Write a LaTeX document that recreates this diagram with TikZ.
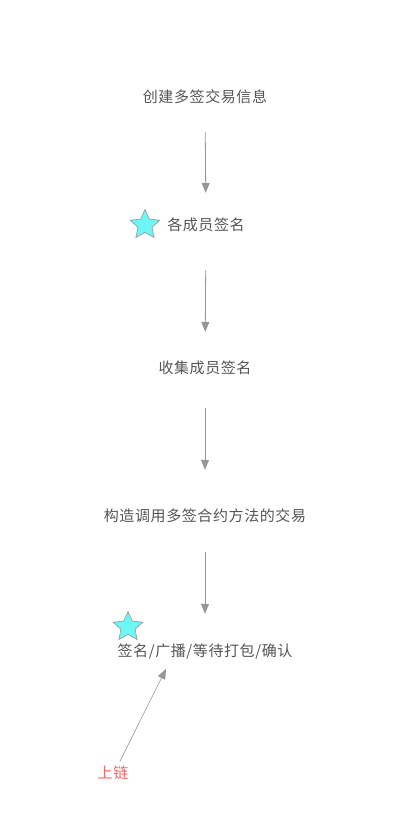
\documentclass[tikz,border=0pt]{standalone}
\usepackage{fontspec}
\usepackage{tikz}
\usetikzlibrary{arrows.meta,shapes.geometric}
\newfontfamily\cjkfont[LetterSpace=4]{Noto Sans CJK SC}
\definecolor{textgray}{RGB}{85, 85, 85}
\definecolor{arrowgray}{RGB}{150, 150, 150}
\definecolor{chainred}{RGB}{255, 100, 100}
\definecolor{starcyan}{RGB}{110, 245, 245}

\begin{document}
\begin{tikzpicture}[x=1pt, y=-1pt,
    stage/.style={inner sep=0pt, text height=11pt, text depth=3pt,
                  font=\cjkfont\fontsize{15}{15}\selectfont, text=textgray}, % texto das etapas
    flow/.style={-{Triangle[length=10pt, width=8pt]}, draw=arrowgray,
                 line width=0.8pt}, % setas cinza
    mark star/.style={star, star points=5, star point ratio=2.1,
                      minimum size=31pt, inner sep=0pt, fill=starcyan,
                      draw=arrowgray, line width=0.6pt},
  ]
  \useasboundingbox (0,0) rectangle (413,818);

  \node[stage] (create)  at (205,99)  {创建多签交易信息};
  \node[stage] (sign)    at (206,226) {各成员签名};
  \node[stage] (collect) at (205,369) {收集成员签名};
  \node[stage] (build)   at (205,517) {构造调用多签合约方法的交易};
  \node[stage] (send)    at (205,652) {签名/广播/等待打包/确认};
  \node[stage, text=chainred] (chain) at (113,774) {上链};

  \node[mark star] (star1) at (145,225) {};
  \node[mark star] (star2) at (128,627) {};

  \coordinate (hit) at (166,669);

  \draw[flow, shorten <=26pt, shorten >=26pt] (create) -- (sign);
  \draw[flow, shorten <=37pt, shorten >=30pt] (sign) -- (collect);
  \draw[flow, shorten <=32pt, shorten >=40pt] (collect) -- (build);
  \draw[flow, shorten <=28pt, shorten >=31pt] (build) -- (send);
  \draw[flow, line width=0.6pt, shorten <=6pt] (chain.60) -- (hit);
\end{tikzpicture}
\end{document}
